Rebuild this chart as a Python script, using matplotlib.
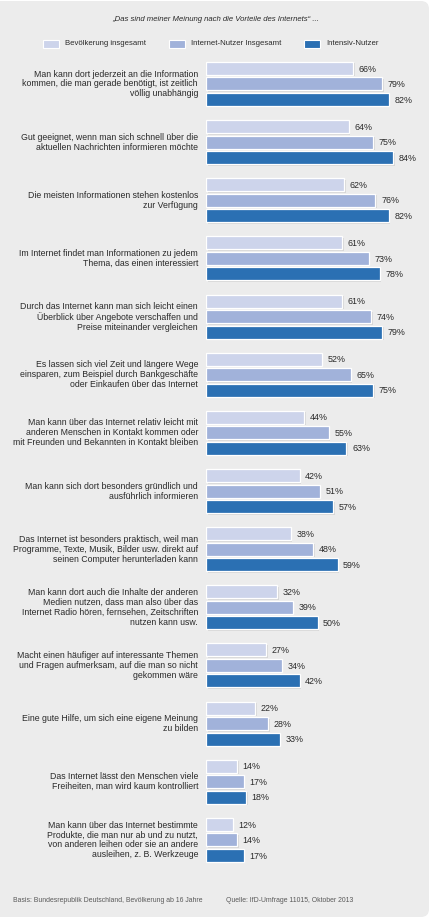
import matplotlib
matplotlib.use('Agg')
import matplotlib.pyplot as plt
from matplotlib.patches import FancyBboxPatch, Rectangle

plt.rcParams['font.family'] = ['Liberation Sans', 'DejaVu Sans']

title = "\u201eDas sind meiner Meinung nach die Vorteile des Internets\u201c ..."

series = ["Bevölkerung insgesamt", "Internet-Nutzer Insgesamt", "Intensiv-Nutzer"]
colors = ["#cdd4eb", "#a1b2da", "#2b70b3"]

categories = [
    "Man kann dort jederzeit an die Information\nkommen, die man gerade benötigt, ist zeitlich\nvöllig unabhängig",
    "Gut geeignet, wenn man sich schnell über die\naktuellen Nachrichten informieren möchte",
    "Die meisten Informationen stehen kostenlos\nzur Verfügung",
    "Im Internet findet man Informationen zu jedem\nThema, das einen interessiert",
    "Durch das Internet kann man sich leicht einen\nÜberblick über Angebote verschaffen und\nPreise miteinander vergleichen",
    "Es lassen sich viel Zeit und längere Wege\neinsparen, zum Beispiel durch Bankgeschäfte\noder Einkaufen über das Internet",
    "Man kann über das Internet relativ leicht mit\nanderen Menschen in Kontakt kommen oder\nmit Freunden und Bekannten in Kontakt bleiben",
    "Man kann sich dort besonders gründlich und\nausführlich informieren",
    "Das Internet ist besonders praktisch, weil man\nProgramme, Texte, Musik, Bilder usw. direkt auf\nseinen Computer herunterladen kann",
    "Man kann dort auch die Inhalte der anderen\nMedien nutzen, dass man also über das\nInternet Radio hören, fernsehen, Zeitschriften\nnutzen kann usw.",
    "Macht einen häufiger auf interessante Themen\nund Fragen aufmerksam, auf die man so nicht\ngekommen wäre",
    "Eine gute Hilfe, um sich eine eigene Meinung\nzu bilden",
    "Das Internet lässt den Menschen viele\nFreiheiten, man wird kaum kontrolliert",
    "Man kann über das Internet bestimmte\nProdukte, die man nur ab und zu nutzt,\nvon anderen leihen oder sie an andere\nausleihen, z. B. Werkzeuge",
]

bevoelkerung = [66, 64, 62, 61, 61, 52, 44, 42, 38, 32, 27, 22, 14, 12]
internet_nutzer = [79, 75, 76, 73, 74, 65, 55, 51, 48, 39, 34, 28, 17, 14]
intensiv_nutzer = [82, 84, 82, 78, 79, 75, 63, 57, 59, 50, 42, 33, 18, 17]

footer_left = "Basis: Bundesrepublik Deutschland, Bevölkerung ab 16 Jahre"
footer_right = "Quelle: IfD-Umfrage 11015, Oktober 2013"

W, H = 432, 918
fig = plt.figure(figsize=(W / 100, H / 100), dpi=100)
fig.patch.set_facecolor('white')

# rounded grey panel behind everything
panel = FancyBboxPatch((-20, 1), 449, 916, boxstyle="round,pad=0,rounding_size=8",
                       transform=None, facecolor='#ececec', edgecolor='none', zorder=-5)
fig.patches.append(panel)

# bar axes: 0 % at x=206 px, 2.23 px per percent; y in group units
x0 = 206
px_per_pct = 2.23
group_px = 58.15
first_mid = 84
ax = fig.add_axes([x0 / W, 0, 1 - x0 / W, 1], zorder=1)
ax.set_xlim(0, (W - x0) / px_per_pct)
ax.set_ylim((H - first_mid) / group_px, -first_mid / group_px)
ax.axis('off')
ax.patch.set_alpha(0)

step = 15.5 / group_px
bar_h = 13 / group_px
text_color = '#2a2a2a'
dx_shadow = 1.5 / px_per_pct
dy_shadow = 1.5 / group_px

for j, vals in enumerate([bevoelkerung, internet_nutzer, intensiv_nutzer]):
    ys = [i + (j - 1) * step for i in range(len(vals))]
    ax.barh([y + dy_shadow for y in ys], vals, left=dx_shadow, height=bar_h,
            color='#c8c8c8', alpha=0.6, zorder=1)
    ax.barh(ys, vals, height=bar_h, color=colors[j], edgecolor='white',
            linewidth=0.9, zorder=2)
    for y, v in zip(ys, vals):
        ax.text(v + 2.5, y + 0.01, f"{v}%", ha='left', va='center',
                fontsize=6.4, color=text_color)

for i, cat in enumerate(categories):
    fig.text(198 / W, 1 - (first_mid + i * group_px) / H, cat, ha='right', va='center',
             multialignment='right', fontsize=6.3, color=text_color, linespacing=1.13)

fig.text(216 / W, 1 - 19.5 / H, title, ha='center', va='center', fontsize=5.55,
         style='italic', color=text_color)

# legend
leg_x = [43, 169, 304]
for x, c, lab in zip(leg_x, colors, series):
    fig.patches.append(Rectangle((x, H - 48), 16, 8, transform=None, facecolor=c,
                                 edgecolor='white', linewidth=0.8, zorder=2))
    fig.text((x + 22) / W, 1 - 43.5 / H, lab, ha='left', va='center', fontsize=5.6,
             color=text_color)

fig.text(13 / W, 1 - 900 / H, footer_left, ha='left', va='center', fontsize=4.95,
         color='#5a5a5a')
fig.text(226 / W, 1 - 900 / H, footer_right, ha='left', va='center', fontsize=4.95,
         color='#5a5a5a')

fig.savefig('out.png', dpi=100, facecolor=fig.get_facecolor())
